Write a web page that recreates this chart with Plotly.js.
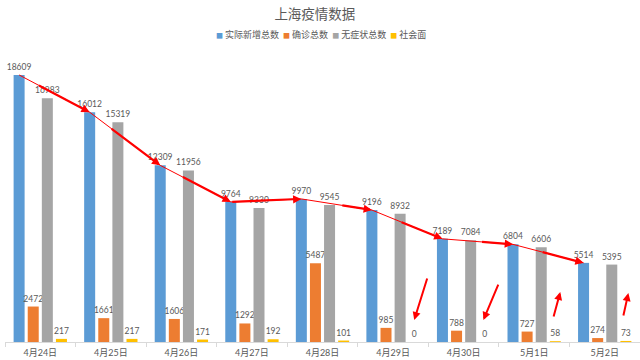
<!DOCTYPE html>
<html>
<head>
<meta charset="utf-8">
<script src="https://cdn.plot.ly/plotly-3.0.1.min.js"></script>
<style>
html,body{margin:0;padding:0;background:#fff;}
#chart{width:640px;height:360px;}
</style>
</head>
<body>
<div id="chart"></div>
<script>
const categories = ['4月24日','4月25日','4月26日','4月27日','4月28日','4月29日','4月30日','5月1日','5月2日'];
const actualNew = [18609,16012,12309,9764,9970,9196,7189,6804,5514];
const confirmed = [2472,1661,1606,1292,5487,985,788,727,274];
const asymptomatic = [16983,15319,11956,9330,9545,8932,7084,6606,5395];
const community = [217,217,171,192,101,0,0,58,73];
const seriesNames = ['实际新增总数','确诊总数','无症状总数','社会面'];
const seriesColors = ['#5B9BD5','#ED7D31','#A5A5A5','#FFC000'];

// where along each trend segment the thick arrow begins (fraction of segment)
const arrowStart = [0.26,0.29,0.30,0,0.56,0.40,0.54,0.40];
// extra marker arrows near the 社会面 labels
const markerArrows = [
  {i:5, dx:0.19, dy:4530, hx:0.0, hy:1530},
  {i:6, dx:0.20, dy:4110, hx:-0.02, hy:1530},
  {i:7, dx:-0.03, dy:1670, hx:0.07, hy:3480},
  {i:8, dx:-0.04, dy:1740, hx:0.035, hy:3410}
];

const xs = categories.map((_, i) => i);
const bargap = 0.2;
const slot = (1 - bargap) / 4;
const offs = [-1.5, -0.5, 0.5, 1.5].map(k => k * slot);

const labelFont = {family: 'Lato, "Noto Sans CJK SC", sans-serif', size: 8.5, color: '#595959'};
const allSeries = [actualNew, confirmed, asymptomatic, community];

const traces = allSeries.map((vals, s) => ({
  type: 'bar',
  name: seriesNames[s],
  x: xs,
  y: vals,
  marker: {color: seriesColors[s]},
  text: vals.map(v => String(v)),
  textposition: 'outside',
  textfont: labelFont,
  cliponaxis: false,
  hoverinfo: 'skip',
  showlegend: false
}));

const blueX = xs.map(i => i + offs[0]);
traces.push({
  type: 'scatter',
  mode: 'lines',
  x: blueX,
  y: actualNew,
  line: {color: '#FF0000', width: 1},
  hoverinfo: 'skip',
  showlegend: false,
  cliponaxis: false
});

const annotations = [];
for (let k = 0; k < actualNew.length - 1; k++) {
  const f = arrowStart[k];
  const tx = blueX[k] + (blueX[k+1] - blueX[k]) * f;
  const ty = actualNew[k] + (actualNew[k+1] - actualNew[k]) * f;
  annotations.push({
    x: blueX[k+1], y: actualNew[k+1], xref: 'x', yref: 'y',
    ax: tx, ay: ty, axref: 'x', ayref: 'y',
    text: '', showarrow: true, arrowhead: 2, arrowsize: 0.75, arrowwidth: 2.2,
    arrowcolor: '#FF0000', standoff: 0, startstandoff: 0
  });
}
markerArrows.forEach(m => {
  const yx = m.i + offs[3];
  annotations.push({
    x: yx + m.hx, y: m.hy, xref: 'x', yref: 'y',
    ax: yx + m.dx, ay: m.dy, axref: 'x', ayref: 'y',
    text: '', showarrow: true, arrowhead: 2, arrowsize: 0.8, arrowwidth: 2,
    arrowcolor: '#FF0000', standoff: 0, startstandoff: 0
  });
});

// legend drawn as text line
const legendText = seriesNames.map((n, s) =>
  '<span style="color:' + seriesColors[s] + ';font-size:7px">■</span> ' + n).join('  ');
annotations.push({
  xref: 'paper', yref: 'paper', x: 0.497, y: (342 - 35) / 287,
  xanchor: 'center', yanchor: 'middle', showarrow: false,
  text: legendText,
  font: {family: '"Noto Sans CJK SC", sans-serif', size: 9, color: '#595959'}
});

const layout = {
  width: 640, height: 360,
  margin: {l: 5, r: 0, t: 55, b: 18},
  paper_bgcolor: '#ffffff', plot_bgcolor: '#ffffff',
  title: {
    text: '上海疫情数据',
    x: 0.492, xanchor: 'center', y: 1 - 14/360, yanchor: 'middle',
    font: {family: '"Noto Sans CJK SC", serif', size: 13.5, color: '#595959'}
  },
  barmode: 'group',
  bargap: bargap,
  bargroupgap: 0.22,
  uniformtext: {mode: false},
  showlegend: false,
  xaxis: {
    range: [-0.5, 8.5],
    tickmode: 'array', tickvals: xs, ticktext: categories,
    ticks: '', showgrid: false, zeroline: false,
    showline: true, linecolor: '#D9D9D9', linewidth: 1,
    tickfont: {family: 'Lato, "Noto Sans CJK SC", sans-serif', size: 9, color: '#595959'},
    ticklabelstandoff: 2,
    minor: {tick0: -0.5, dtick: 1, ticks: 'outside', ticklen: 4, tickcolor: '#D9D9D9', showgrid: false},
    fixedrange: true
  },
  yaxis: {
    range: [0, 20000], visible: false, showgrid: false, zeroline: false, fixedrange: true
  },
  annotations: annotations
};
traces.forEach(t => { if (t.type === 'bar') t.constraintext = 'none'; });

Plotly.newPlot('chart', traces, layout, {displayModeBar: false, staticPlot: true});
</script>
</body>
</html>
